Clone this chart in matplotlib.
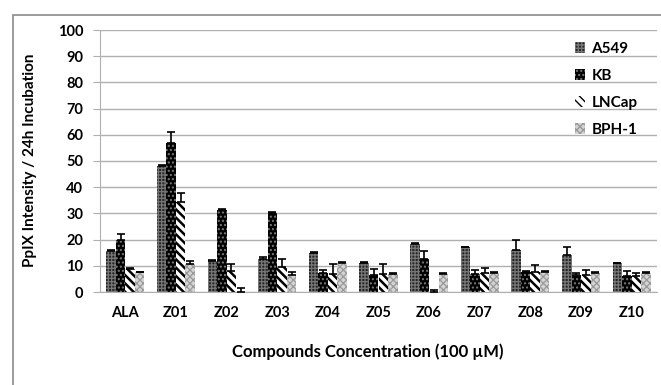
import numpy as np
import matplotlib as mpl
import matplotlib.pyplot as plt
from matplotlib.patches import Rectangle

plt.rcParams['font.family'] = ['Lato', 'DejaVu Sans']

compounds = ['ALA', 'Z01', 'Z02', 'Z03', 'Z04', 'Z05', 'Z06', 'Z07', 'Z08', 'Z09', 'Z10']
cell_lines = ['A549', 'KB', 'LNCap', 'BPH-1']

a549 = [15.5, 48.0, 12.0, 12.5, 14.7, 11.2, 18.2, 17.2, 16.2, 14.2, 11.0]
a549_err = [0.5, 0.5, 0.4, 0.8, 0.5, 0.4, 0.5, 0.0, 3.5, 3.0, 0.0]
kb = [19.7, 57.0, 31.2, 30.2, 7.3, 6.5, 12.5, 7.0, 7.8, 6.6, 6.1]
kb_err = [2.6, 4.0, 0.6, 0.3, 1.0, 2.2, 3.3, 1.4, 0.3, 0.5, 1.9]
lncap = [8.8, 34.5, 8.0, 9.5, 7.0, 7.0, 0.0, 7.4, 7.5, 6.5, 6.2]
lncap_err = [0.4, 3.1, 2.8, 3.2, 3.6, 3.7, 0.8, 1.6, 2.9, 1.9, 1.0]
bph1 = [7.5, 10.8, 0.0, 6.4, 11.0, 7.0, 6.8, 7.2, 7.7, 7.2, 7.2]
bph1_err = [0.3, 1.0, 1.5, 1.1, 0.5, 0.4, 0.4, 0.6, 0.4, 0.3, 0.3]

values = [a549, kb, lncap, bph1]
errors = [a549_err, kb_err, lncap_err, bph1_err]
styles = [
    dict(facecolor='#262626', edgecolor='#777777', hatch='+++++'),
    dict(facecolor='#000000', edgecolor='#7a7a7a', hatch='....'),
    dict(facecolor='#ffffff', edgecolor='#000000', hatch='\\\\\\\\'),
    dict(facecolor='#d4d4d4', edgecolor='#9a9a9a', hatch='xxxxx'),
]
hatch_lw = [0.9, 1.0, 1.8, 0.9]

fig = plt.figure(figsize=(6.61, 3.85), dpi=100)
ax = fig.add_axes([100 / 661, 1 - 292 / 385, 557 / 661, 262 / 385])

x = np.arange(len(compounds))
w = 0.188
for i, (vals, errs, st) in enumerate(zip(values, errors, styles)):
    pos = x + (i - 1.5) * w
    with mpl.rc_context({'hatch.linewidth': hatch_lw[i]}):
        ax.bar(pos, vals, width=w, linewidth=0, label=cell_lines[i], zorder=2, **st)
    ax.errorbar(pos, vals, yerr=[np.zeros(len(errs)), errs], fmt='none',
                ecolor='black', elinewidth=1.2, capsize=3, capthick=1.2, zorder=3)

ax.set_xlim(-0.5, len(compounds) - 0.5)
ax.set_ylim(0, 100)
ax.set_yticks(np.arange(0, 101, 10))
ax.set_xticks(x)
ax.set_xticklabels(compounds, fontsize=10.5, fontweight='bold')
for lab in ax.get_yticklabels():
    lab.set_fontsize(10.5)
    lab.set_fontweight('bold')
ax.yaxis.grid(True, color='#b0b0b0', linewidth=1.0, zorder=0)
ax.set_axisbelow(True)
for s in ['top', 'right']:
    ax.spines[s].set_visible(False)
ax.spines['left'].set_color('#b0b0b0')
ax.spines['bottom'].set_color('#b0b0b0')
ax.tick_params(axis='y', length=5, color='#b0b0b0', pad=7)
ax.tick_params(axis='x', length=0, pad=10)

fig.text(30 / 661, 1 - 160 / 385, 'PpIX Intensity / 24h Incubation', rotation=90,
         ha='center', va='center', fontsize=11, fontweight='bold')
fig.text(368 / 661, 1 - 352 / 385, 'Compounds Concentration (100 \u00b5M)',
         ha='center', va='center', fontsize=12, fontweight='bold')

fig.legend(loc='upper left', bbox_to_anchor=(567 / 661, 1 - 34 / 385), frameon=False,
           prop={'weight': 'bold', 'size': 11}, handlelength=0.7, handleheight=0.7,
           handletextpad=0.4, labelspacing=0.85, borderpad=0)

fig.patches.append(Rectangle((13 / 661, -0.1), 1.2, 1 - 15 / 385 + 0.1,
                             transform=fig.transFigure, fill=False,
                             edgecolor='#8a8a8a', linewidth=1.2))

fig.savefig('out.png', dpi=100)
